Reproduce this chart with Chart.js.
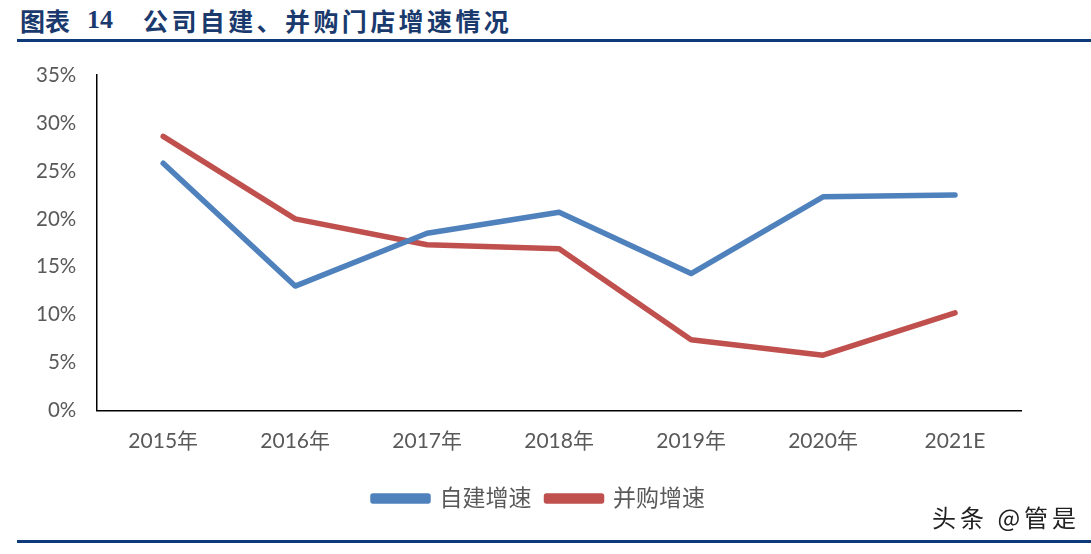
<!DOCTYPE html>
<html><head><meta charset="utf-8">
<script src="https://cdn.jsdelivr.net/npm/chart.js@4.4.1/dist/chart.umd.min.js"></script>
<style>
html,body{margin:0;padding:0;background:#fff;width:1091px;height:554px;overflow:hidden;position:relative;}
.t{position:absolute;top:5px;line-height:30px;font-weight:bold;font-size:25px;color:#1a3a6e;white-space:pre;font-family:"Noto Sans CJK SC",sans-serif;}
#t1{left:20px;}
#t2{left:87px;font-family:"Liberation Serif",serif;font-size:26px;}
#t3{left:143px;letter-spacing:3.4px;}
#rule1{position:absolute;left:17px;right:0;top:39px;height:3px;background:#0e3a7a;}
#rule2{position:absolute;left:17px;right:0;top:540px;height:3px;background:#0e3a7a;}
#wm{position:absolute;left:932px;top:500px;line-height:34px;font-family:"Noto Sans CJK SC",sans-serif;font-size:24px;letter-spacing:4px;color:#222;white-space:pre;}
#wrap{position:absolute;left:0;top:0;width:1091px;height:554px;}
</style></head>
<body>
<div class="t" id="t1">图表</div>
<div class="t" id="t2">14</div>
<div class="t" id="t3">公司自建、并购门店增速情况</div>
<div id="rule1"></div>
<div id="wrap"><canvas id="c"></canvas></div>
<div id="wm">头条 @管是</div>
<div id="rule2"></div>
<script>
const categories = ["2015年","2016年","2017年","2018年","2019年","2020年","2021E"];
const selfBuilt = [25.8, 13.0, 18.5, 20.7, 14.3, 22.3, 22.5];
const acquired = [28.6, 20.0, 17.3, 16.9, 7.4, 5.8, 10.2];
const seriesNames = ["自建增速","并购增速"];
const yTicks = {min:0, max:35, step:5};

const font = 'Lato, "Noto Sans CJK SC", sans-serif';
const shiftLegend = {
  id:'shiftLegend',
  afterLayout(chart){ const l = chart.legend; if(l){ l.left += 21; l.right += 21; } }
};
new Chart(document.getElementById('c'), {
  type:'line',
  data:{labels:categories, datasets:[
    {label:seriesNames[0], data:selfBuilt, borderColor:'#4F81BD', backgroundColor:'#4F81BD', borderWidth:5.5, pointRadius:0, tension:0, borderCapStyle:'round', borderJoinStyle:'round'},
    {label:seriesNames[1], data:acquired, borderColor:'#C0504D', backgroundColor:'#C0504D', borderWidth:5.5, pointRadius:0, tension:0, borderCapStyle:'round', borderJoinStyle:'round'}
  ]},
  options:{
    responsive:true, maintainAspectRatio:false, animation:false,
    layout:{padding:{top:75,left:15,right:70,bottom:34}},
    plugins:{
      tooltip:{enabled:false},
      legend:{position:'bottom', labels:{boxWidth:55, boxHeight:5, padding:15, color:'#595959', font:{family:font, size:23}}}
    },
    scales:{
      x:{offset:true, grid:{display:false, drawTicks:false}, border:{color:'#000', width:1.5},
         ticks:{padding:18, color:'#595959', font:{family:font, size:21}}},
      y:{min:yTicks.min, max:yTicks.max, grid:{display:false, drawTicks:false}, border:{color:'#000', width:1.5},
         ticks:{stepSize:yTicks.step, padding:21, color:'#595959', font:{family:font, size:20.5}, callback:v=>v+'%'}}
    }
  },
  plugins:[shiftLegend]
});
</script>
</body></html>
